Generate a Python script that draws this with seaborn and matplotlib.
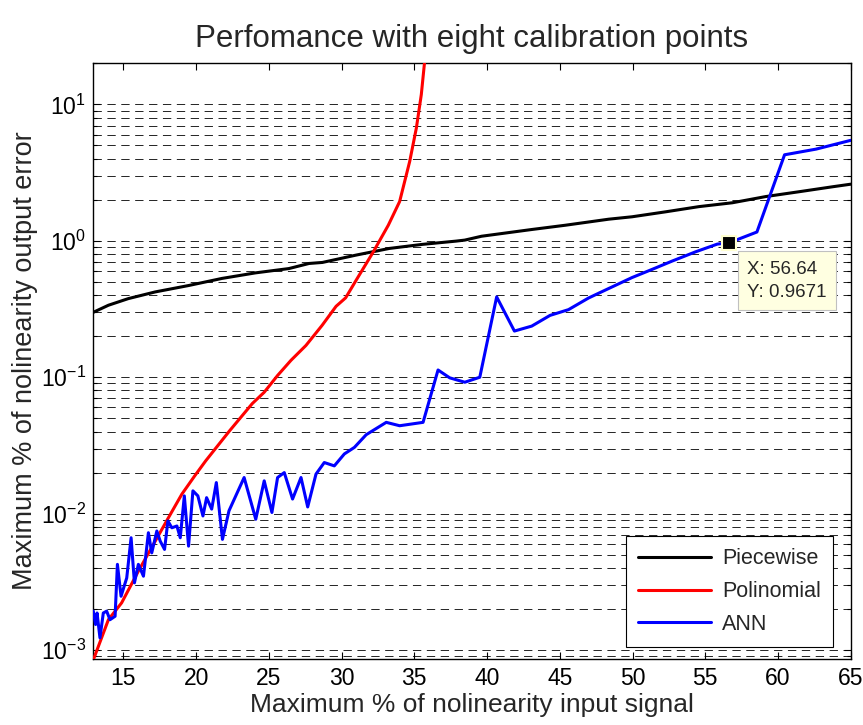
import numpy as np
import pandas as pd
import matplotlib
matplotlib.use("Agg")
import matplotlib.pyplot as plt
import seaborn as sns

# ---------------- data ----------------
series_names = ["Piecewise", "Polinomial", "ANN"]
series_colors = ["#000000", "#ff0000", "#0000ff"]

piece_x = [12.9, 13.97, 15.34, 17.19, 19.48, 21.78, 24.08, 26.38, 27.76, 28.68,
           30.98, 33.28, 35.57, 37.88, 38.47, 39.62, 43.07, 45.37, 48.36, 49.97,
           52.26, 54.56, 56.86, 59.16, 61.46, 63.76, 65.0]
piece_y = [0.298, 0.337, 0.377, 0.422, 0.470, 0.530, 0.582, 0.626, 0.682, 0.694,
           0.785, 0.879, 0.942, 0.995, 1.012, 1.08, 1.21, 1.30, 1.44, 1.50,
           1.63, 1.78, 1.90, 2.11, 2.29, 2.49, 2.60]

poly_x = [12.9, 13.97, 14.88, 16.03, 18.10, 19.02, 19.90, 20.66, 22.31, 23.86,
          24.68, 25.60, 26.52, 27.55, 28.66, 29.62, 30.28, 31.00, 32.17, 33.21,
          33.99, 34.68, 35.14, 35.48, 35.71, 35.85]
poly_y = [8.3e-4, 1.67e-3, 2.22e-3, 3.79e-3, 9.35e-3, 0.0139, 0.0189, 0.0244, 0.0406, 0.0641,
          0.0776, 0.103, 0.133, 0.171, 0.240, 0.331, 0.382, 0.514, 0.826, 1.30,
          1.94, 3.81, 6.71, 11.8, 20.7, 30.0]

ann_x = [12.93, 13.09, 13.19, 13.39, 13.62, 13.85, 14.08, 14.43, 14.59, 14.84,
         15.23, 15.53, 15.76, 16.03, 16.38, 16.72, 16.95, 17.30, 17.53, 17.83,
         18.06, 18.33, 18.68, 18.91, 19.19, 19.48, 19.78, 20.12, 20.47, 20.72,
         21.07, 21.39, 21.81, 22.26, 23.30, 24.10, 24.68, 25.21, 25.60, 26.06,
         26.63, 27.21, 27.67, 28.24, 28.81, 29.50, 30.19, 30.88, 31.69, 33.07,
         33.99, 35.60, 36.63, 37.43, 38.47, 39.50, 40.66, 41.88, 43.07, 44.33,
         45.60, 46.98, 48.36, 49.97, 51.34, 52.72, 54.33, 55.83, 56.64, 58.55,
         60.45, 62.62, 65.0]
ann_y = [1.93e-3, 1.54e-3, 1.87e-3, 1.23e-3, 1.87e-3, 1.93e-3, 1.67e-3, 1.77e-3, 4.25e-3, 2.48e-3,
         3.38e-3, 6.66e-3, 3.11e-3, 4.25e-3, 3.48e-3, 7.25e-3, 5.16e-3, 7.46e-3, 6.30e-3, 5.47e-3,
         8.84e-3, 7.88e-3, 8.12e-3, 6.66e-3, 0.0135, 5.78e-3, 0.0147, 0.0135, 9.62e-3, 0.0131,
         0.0108, 0.0169, 6.48e-3, 0.0105, 0.0184, 9.1e-3, 0.0174, 0.0102, 0.0184, 0.0200,
         0.0128, 0.0184, 0.0112, 0.0195, 0.0237, 0.0224, 0.0274, 0.0306, 0.0379, 0.0467,
         0.0441, 0.0467, 0.113, 0.099, 0.0919, 0.100, 0.388, 0.218, 0.237, 0.284,
         0.313, 0.381, 0.447, 0.538, 0.617, 0.710, 0.830, 0.946, 0.9671, 1.16,
         4.27, 4.70, 5.45]

tip_x, tip_y = 56.64, 0.9671
tip_text = "X: 56.64\nY: 0.9671"

title = "Perfomance with eight calibration points"
xlabel = "Maximum % of nolinearity input signal"
ylabel = "Maximum % of nolinearity output error"
xticks = [15, 20, 25, 30, 35, 40, 45, 50, 55, 60, 65]

# ---------------- build long table ----------------
frames = []
for name, xs, ys in zip(series_names, [piece_x, poly_x, ann_x], [piece_y, poly_y, ann_y]):
    frames.append(pd.DataFrame({"x": xs, "y": ys, "series": name}))
df = pd.concat(frames, ignore_index=True)

# ---------------- style ----------------
sns.set_style("ticks")
plt.rcParams["font.family"] = ["Liberation Sans", "DejaVu Sans"]
plt.rcParams["lines.scale_dashes"] = False

fig = plt.figure(figsize=(8.63, 7.25), dpi=100)
ax = fig.add_axes([0.1074, 0.0910, 0.9858 - 0.1074, 0.9135 - 0.0910])

sns.lineplot(data=df, x="x", y="y", hue="series", hue_order=series_names,
             palette=dict(zip(series_names, series_colors)), estimator=None,
             sort=False, linewidth=2.2, ax=ax, zorder=3)

ax.set_yscale("log")
ax.set_xlim(12.89, 65.0)
ax.set_ylim(8.6e-4, 20.2)
ax.set_xticks(xticks)
ax.set_xticklabels([str(t) for t in xticks])

# grid: horizontal only, major and minor, dashed
ax.yaxis.grid(True, which="both", linestyle=(0, (6, 4)), color="black", linewidth=0.6, zorder=0)
ax.xaxis.grid(False)

ax.tick_params(axis="both", which="both", direction="in", top=True, right=True,
               colors="black", width=0.8)
ax.tick_params(axis="both", which="major", length=5, labelsize=16.5)
ax.tick_params(axis="y", which="minor", length=3)
ax.tick_params(axis="x", which="major", pad=6)
ax.tick_params(axis="y", which="major", pad=5)
for s in ax.spines.values():
    s.set_visible(True)
    s.set_color("black")
    s.set_linewidth(1.0)

ax.set_title(title, fontsize=22.5, pad=11)
ax.set_xlabel(xlabel, fontsize=19, labelpad=2)
ax.set_ylabel(ylabel, fontsize=19.5, labelpad=2)

# data tip
ax.plot([tip_x], [tip_y], marker="s", markersize=10, markerfacecolor="black",
        markeredgecolor="#ffffd0", markeredgewidth=1.5, linestyle="none", zorder=5)
ax.annotate(tip_text, xy=(tip_x, tip_y), xytext=(13, -13), textcoords="offset points",
            ha="left", va="top", fontsize=13.5, linespacing=1.45,
            bbox=dict(boxstyle="square,pad=0.5", facecolor="#ffffe1", edgecolor="#c0c0c0",
                      linewidth=0.8), zorder=6)

leg = ax.legend(loc="lower right", bbox_to_anchor=(0.9763, 0.0206), borderaxespad=0,
                fontsize=15.5, frameon=True, fancybox=False, edgecolor="black",
                handlelength=3.4, handletextpad=0.5, labelspacing=0.55, borderpad=0.55)
leg.get_frame().set_linewidth(0.8)
leg.get_frame().set_alpha(1)
leg.set_zorder(7)
for h in leg.get_lines():
    h.set_linewidth(2.2)

fig.savefig("out.png", dpi=100)
